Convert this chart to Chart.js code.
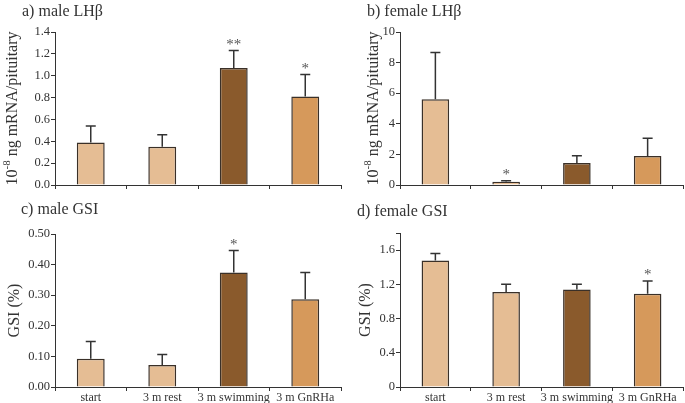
<!DOCTYPE html>
<html>
<head>
<meta charset="utf-8">
<script src="https://cdn.jsdelivr.net/npm/chart.js@4.4.0/dist/chart.umd.min.js"></script>
<style>
    body { margin: 0; background: #fff; }
    #wrap { position: relative; width: 685px; height: 403px; }
    canvas { position: absolute; }
</style>
</head>
<body>
<div id="wrap">
    <canvas id="panelA" width="342" height="195" style="left:0;top:0"></canvas>
    <canvas id="panelB" width="343" height="195" style="left:342px;top:0"></canvas>
    <canvas id="panelC" width="342" height="208" style="left:0;top:195px"></canvas>
    <canvas id="panelD" width="343" height="208" style="left:342px;top:195px"></canvas>
</div>
<script>
// data
var categories = ["start", "3 m rest", "3 m swimming", "3 m GnRHa"];

var maleLH = [0.39, 0.35, 1.07, 0.81];
var maleLHErr = [0.15, 0.11, 0.16, 0.20];
var maleLHStars = ["", "", "**", "*"];
var maleLHTicks = [0, 0.2, 0.4, 0.6, 0.8, 1.0, 1.2, 1.4];

var femaleLH = [5.6, 0.22, 1.43, 1.89];
var femaleLHErr = [3.06, 0.06, 0.48, 1.16];
var femaleLHStars = ["", "*", "", ""];
var femaleLHTicks = [0, 2, 4, 6, 8, 10];

var maleGSI = [0.092, 0.072, 0.374, 0.287];
var maleGSIErr = [0.057, 0.034, 0.072, 0.087];
var maleGSIStars = ["", "", "*", ""];
var maleGSITicks = [0, 0.1, 0.2, 0.3, 0.4, 0.5];

var femaleGSI = [1.48, 1.11, 1.14, 1.09];
var femaleGSIErr = [0.08, 0.09, 0.06, 0.15];
var femaleGSIStars = ["", "", "", "*"];
var femaleGSITicks = [0, 0.4, 0.8, 1.2, 1.6, 1.8];

var barColors = ["#E5BD94", "#E5BD94", "#8A5A2C", "#D6995B"];
var FONT = '"Liberation Serif", "Times New Roman", serif';
var INK = "#333333";

Chart.defaults.font.family = FONT;
Chart.defaults.color = INK;


// error bars, stars, panel title and y title
var panelDecor = {
    id: "panelDecor",
    afterDatasetsDraw: function (chart, args, opts) {
        var ctx = chart.ctx;
        var y = chart.scales.y;
        var meta = chart.getDatasetMeta(0);
        var vals = chart.data.datasets[0].data;
        ctx.save();
        ctx.strokeStyle = INK;
        ctx.lineWidth = 1.5;
        meta.data.forEach(function (bar, i) {
            var top = y.getPixelForValue(vals[i] + opts.errors[i]);
            ctx.beginPath();
            ctx.moveTo(bar.x, bar.y);
            ctx.lineTo(bar.x, top);
            ctx.moveTo(bar.x - 5, top);
            ctx.lineTo(bar.x + 5, top);
            ctx.stroke();
            if (opts.stars[i]) {
                ctx.fillStyle = "#555";
                ctx.font = "15px " + FONT;
                ctx.textAlign = "center";
                ctx.textBaseline = "alphabetic";
                ctx.fillText(opts.stars[i], bar.x, top - 2);
            }
        });
        ctx.restore();
    },
    afterDraw: function (chart, args, opts) {
        var ctx = chart.ctx;
        var area = chart.chartArea;
        ctx.save();
        ctx.fillStyle = INK;
        ctx.font = "16px " + FONT;
        ctx.textBaseline = "middle";
        ctx.textAlign = "left";
        ctx.fillText(opts.title, opts.titleX, opts.titleY);

        // rotated y title, with optional superscript
        var parts = opts.yTitle;
        var big = "16px " + FONT, small = "11px " + FONT;
        var total = 0;
        parts.forEach(function (p) {
            ctx.font = p.sup ? small : big;
            total += ctx.measureText(p.text).width;
        });
        ctx.translate(opts.yTitleX, (area.top + area.bottom) / 2);
        ctx.rotate(-Math.PI / 2);
        var x = -total / 2;
        parts.forEach(function (p) {
            ctx.font = p.sup ? small : big;
            ctx.fillText(p.text, x, p.sup ? -6 : 0);
            x += ctx.measureText(p.text).width;
        });
        ctx.restore();
    }
};


function makePanel(id, values, errors, stars, ticks, o) {
    var canvas = document.getElementById(id);
    return new Chart(canvas.getContext("2d"), {
        type: "bar",
        data: {
            labels: categories,
            datasets: [{
                data: values,
                backgroundColor: barColors,
                borderColor: "#3a3028",
                borderWidth: 1.5,
                categoryPercentage: 1,
                barPercentage: 0.39
            }]
        },
        options: {
            responsive: false,
            animation: false,
            layout: {
                padding: { top: o.top, right: canvas.width - o.right, left: 0, bottom: 0 }
            },
            plugins: {
                legend: { display: false },
                tooltip: { enabled: false },
                panelDecor: {
                    errors: errors,
                    stars: stars,
                    title: o.title,
                    titleX: o.titleX,
                    titleY: o.titleY,
                    yTitle: o.yTitle,
                    yTitleX: o.yTitleX
                }
            },
            scales: {
                x: {
                    border: { color: INK, width: 1 },
                    grid: { drawOnChartArea: false, drawTicks: true, tickLength: 4, color: INK, offset: true },
                    ticks: { display: o.xLabels, padding: 0, font: { size: 12 }, maxRotation: 0, autoSkip: false },
                    afterFit: function (scale) { scale.height = canvas.height - o.bottom; }
                },
                y: {
                    min: 0,
                    max: ticks[ticks.length - 1],
                    border: { color: INK, width: 1 },
                    grid: { drawOnChartArea: false, drawTicks: true, tickLength: 4, color: INK },
                    ticks: {
                        padding: 1,
                        font: { size: 12.5 },
                        callback: function (v) {
                            if (o.hideLast && v === ticks[ticks.length - 1]) return "";
                            if (v === 0 && o.zeroPlain) return "0";
                            return v.toFixed(o.digits);
                        }
                    },
                    afterBuildTicks: function (scale) {
                        scale.ticks = ticks.map(function (v) { return { value: v }; });
                    },
                    afterFit: function (scale) { scale.width = o.left; }
                }
            }
        },
        plugins: [panelDecor]
    });
}

var lhTitle = [{ text: "10" }, { text: "-8", sup: true }, { text: " ng mRNA/pituitary" }];
var gsiTitle = [{ text: "GSI (%)" }];

makePanel("panelA", maleLH, maleLHErr, maleLHStars, maleLHTicks, {
    top: 32, bottom: 185, left: 55, right: 341, digits: 1,
    xLabels: false, title: "a) male LH\u03b2", titleX: 22, titleY: 12,
    yTitle: lhTitle, yTitleX: 13
});

makePanel("panelB", femaleLH, femaleLHErr, femaleLHStars, femaleLHTicks, {
    top: 32, bottom: 185, left: 58, right: 341, digits: 0,
    xLabels: false, title: "b) female LH\u03b2", titleX: 25, titleY: 12,
    yTitle: lhTitle, yTitleX: 32
});

makePanel("panelC", maleGSI, maleGSIErr, maleGSIStars, maleGSITicks, {
    top: 39, bottom: 192, left: 55, right: 341, digits: 2,
    xLabels: true, title: "c) male GSI", titleX: 21, titleY: 15,
    yTitle: gsiTitle, yTitleX: 15
});

makePanel("panelD", femaleGSI, femaleGSIErr, femaleGSIStars, femaleGSITicks, {
    top: 38, bottom: 192, left: 58, right: 341, digits: 1, zeroPlain: true, hideLast: true,
    xLabels: true, title: "d) female GSI", titleX: 15, titleY: 17,
    yTitle: gsiTitle, yTitleX: 24
});
</script>
</body>
</html>
